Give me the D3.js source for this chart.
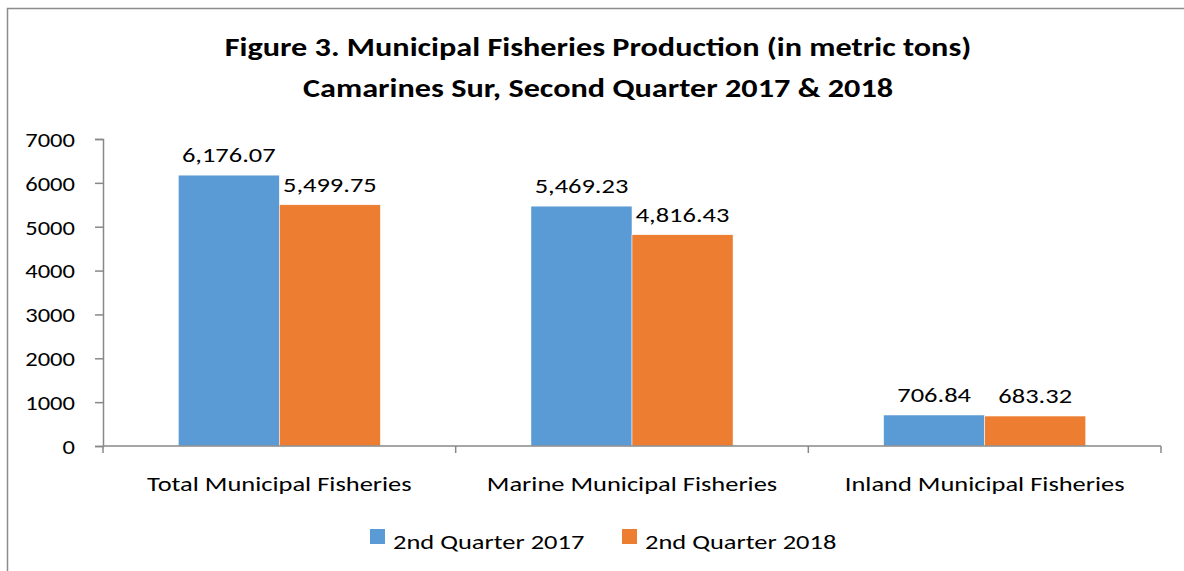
<!DOCTYPE html>
<html>
<head>
<meta charset="utf-8">
<script src="https://cdn.jsdelivr.net/npm/d3@7"></script>
<style>
  body { margin: 0; background: #fff; }
  svg { display: block; font-family: Carlito, Lato, "Open Sans", sans-serif; }
</style>
</head>
<body>
<svg id="plot"></svg>
<script>
// data
const categories = ["Total Municipal Fisheries", "Marine Municipal Fisheries", "Inland Municipal Fisheries"];
const seriesNames = ["2nd Quarter 2017", "2nd Quarter 2018"];
const q2017 = [6176.07, 5469.23, 706.84];
const q2018 = [5499.75, 4816.43, 683.32];
const yTicks = [0, 1000, 2000, 3000, 4000, 5000, 6000, 7000];
const colors = ["#5B9BD5", "#ED7D31"];

const W = 1184, H = 571;
const margin = {top: 139, right: 23, bottom: 125, left: 103};
const width = W - margin.left - margin.right;
const height = H - margin.top - margin.bottom;
const sx = 1.26; // the source text is wide, stretch glyphs horizontally

const svg = d3.select("#plot").attr("width", W).attr("height", H);

// stretched text helper
function wideText(parent, x, y, txt, size, anchor, bold) {
  const t = parent.append("g").attr("transform", `translate(${x},${y}) scale(${sx},1)`)
    .append("text")
    .attr("text-anchor", anchor)
    .style("font-size", size + "px")
    .style("fill", "#000")
    .text(txt);
  if (bold) t.style("font-weight", "700");
  return t;
}

// outer frame (only top/left visible in picture)
svg.append("rect")
  .attr("x", 7.5).attr("y", 8.5)
  .attr("width", W + 20).attr("height", H + 20)
  .style("fill", "none").style("stroke", "#8c8c8c").style("stroke-width", 1.5);

// title
wideText(svg, 598, 56, "Figure 3. Municipal Fisheries Production (in metric tons)", 25.6, "middle", true);
wideText(svg, 598, 97, "Camarines Sur, Second Quarter 2017 & 2018", 25.6, "middle", true);

const g = svg.append("g").attr("transform", `translate(${margin.left},${margin.top})`);

const x0 = d3.scaleBand().domain(categories).range([0, width]).paddingInner(0.427).paddingOuter(0.2135);
const x1 = d3.scaleBand().domain(seriesNames).range([0, x0.bandwidth()]);
const y = d3.scaleLinear().domain([0, 7000]).range([height, 0]);

// bars
categories.forEach(function(c, i) {
  const vals = [q2017[i], q2018[i]];
  vals.forEach(function(v, k) {
    const bx = x0(c) + x1(seriesNames[k]);
    g.append("rect")
      .attr("x", bx)
      .attr("y", y(v))
      .attr("width", x1.bandwidth())
      .attr("height", height - y(v))
      .style("fill", colors[k])
      .style("stroke", "#fff").style("stroke-width", 0.5);
    wideText(g, bx + x1.bandwidth() / 2, y(v) - 13, d3.format(",.2f")(v), 21, "middle", false);
  });
});

// y axis
const yAxis = d3.axisLeft(y).tickValues(yTicks).tickSize(8).tickPadding(20).tickFormat(d3.format("d"));
g.append("g").call(yAxis)
  .call(a => a.selectAll("path, line").style("stroke", "#888").style("stroke-width", 1.5))
  .call(a => a.selectAll("text")
    .style("font-size", "19.5px").style("fill", "#000").style("font-family", "Carlito, Lato, sans-serif")
    .attr("x", -28 / sx).attr("dy", "0.38em")
    .attr("transform", `scale(${sx},1)`));

// x axis: ticks at category boundaries
const xa = g.append("g").attr("transform", `translate(0,${height})`);
xa.append("line").attr("x1", 0).attr("x2", width)
  .style("stroke", "#888").style("stroke-width", 1.5);
const step = x0.step();
xa.selectAll(".xt").data(d3.range(categories.length + 1)).join("line")
  .attr("x1", i => i * step).attr("x2", i => i * step)
  .attr("y1", 0).attr("y2", 7)
  .style("stroke", "#888").style("stroke-width", 1.5);
categories.forEach(function(c) {
  wideText(xa, x0(c) + x0.bandwidth() / 2, 45, c, 21, "middle", false);
});

// legend
const legendX = [370, 622];
seriesNames.forEach(function(s, i) {
  svg.append("rect").attr("x", legendX[i]).attr("y", 529).attr("width", 15).attr("height", 15).style("fill", colors[i]);
  wideText(svg, legendX[i] + 23, 549, s, 21, "start", false);
});
</script>
</body>
</html>
